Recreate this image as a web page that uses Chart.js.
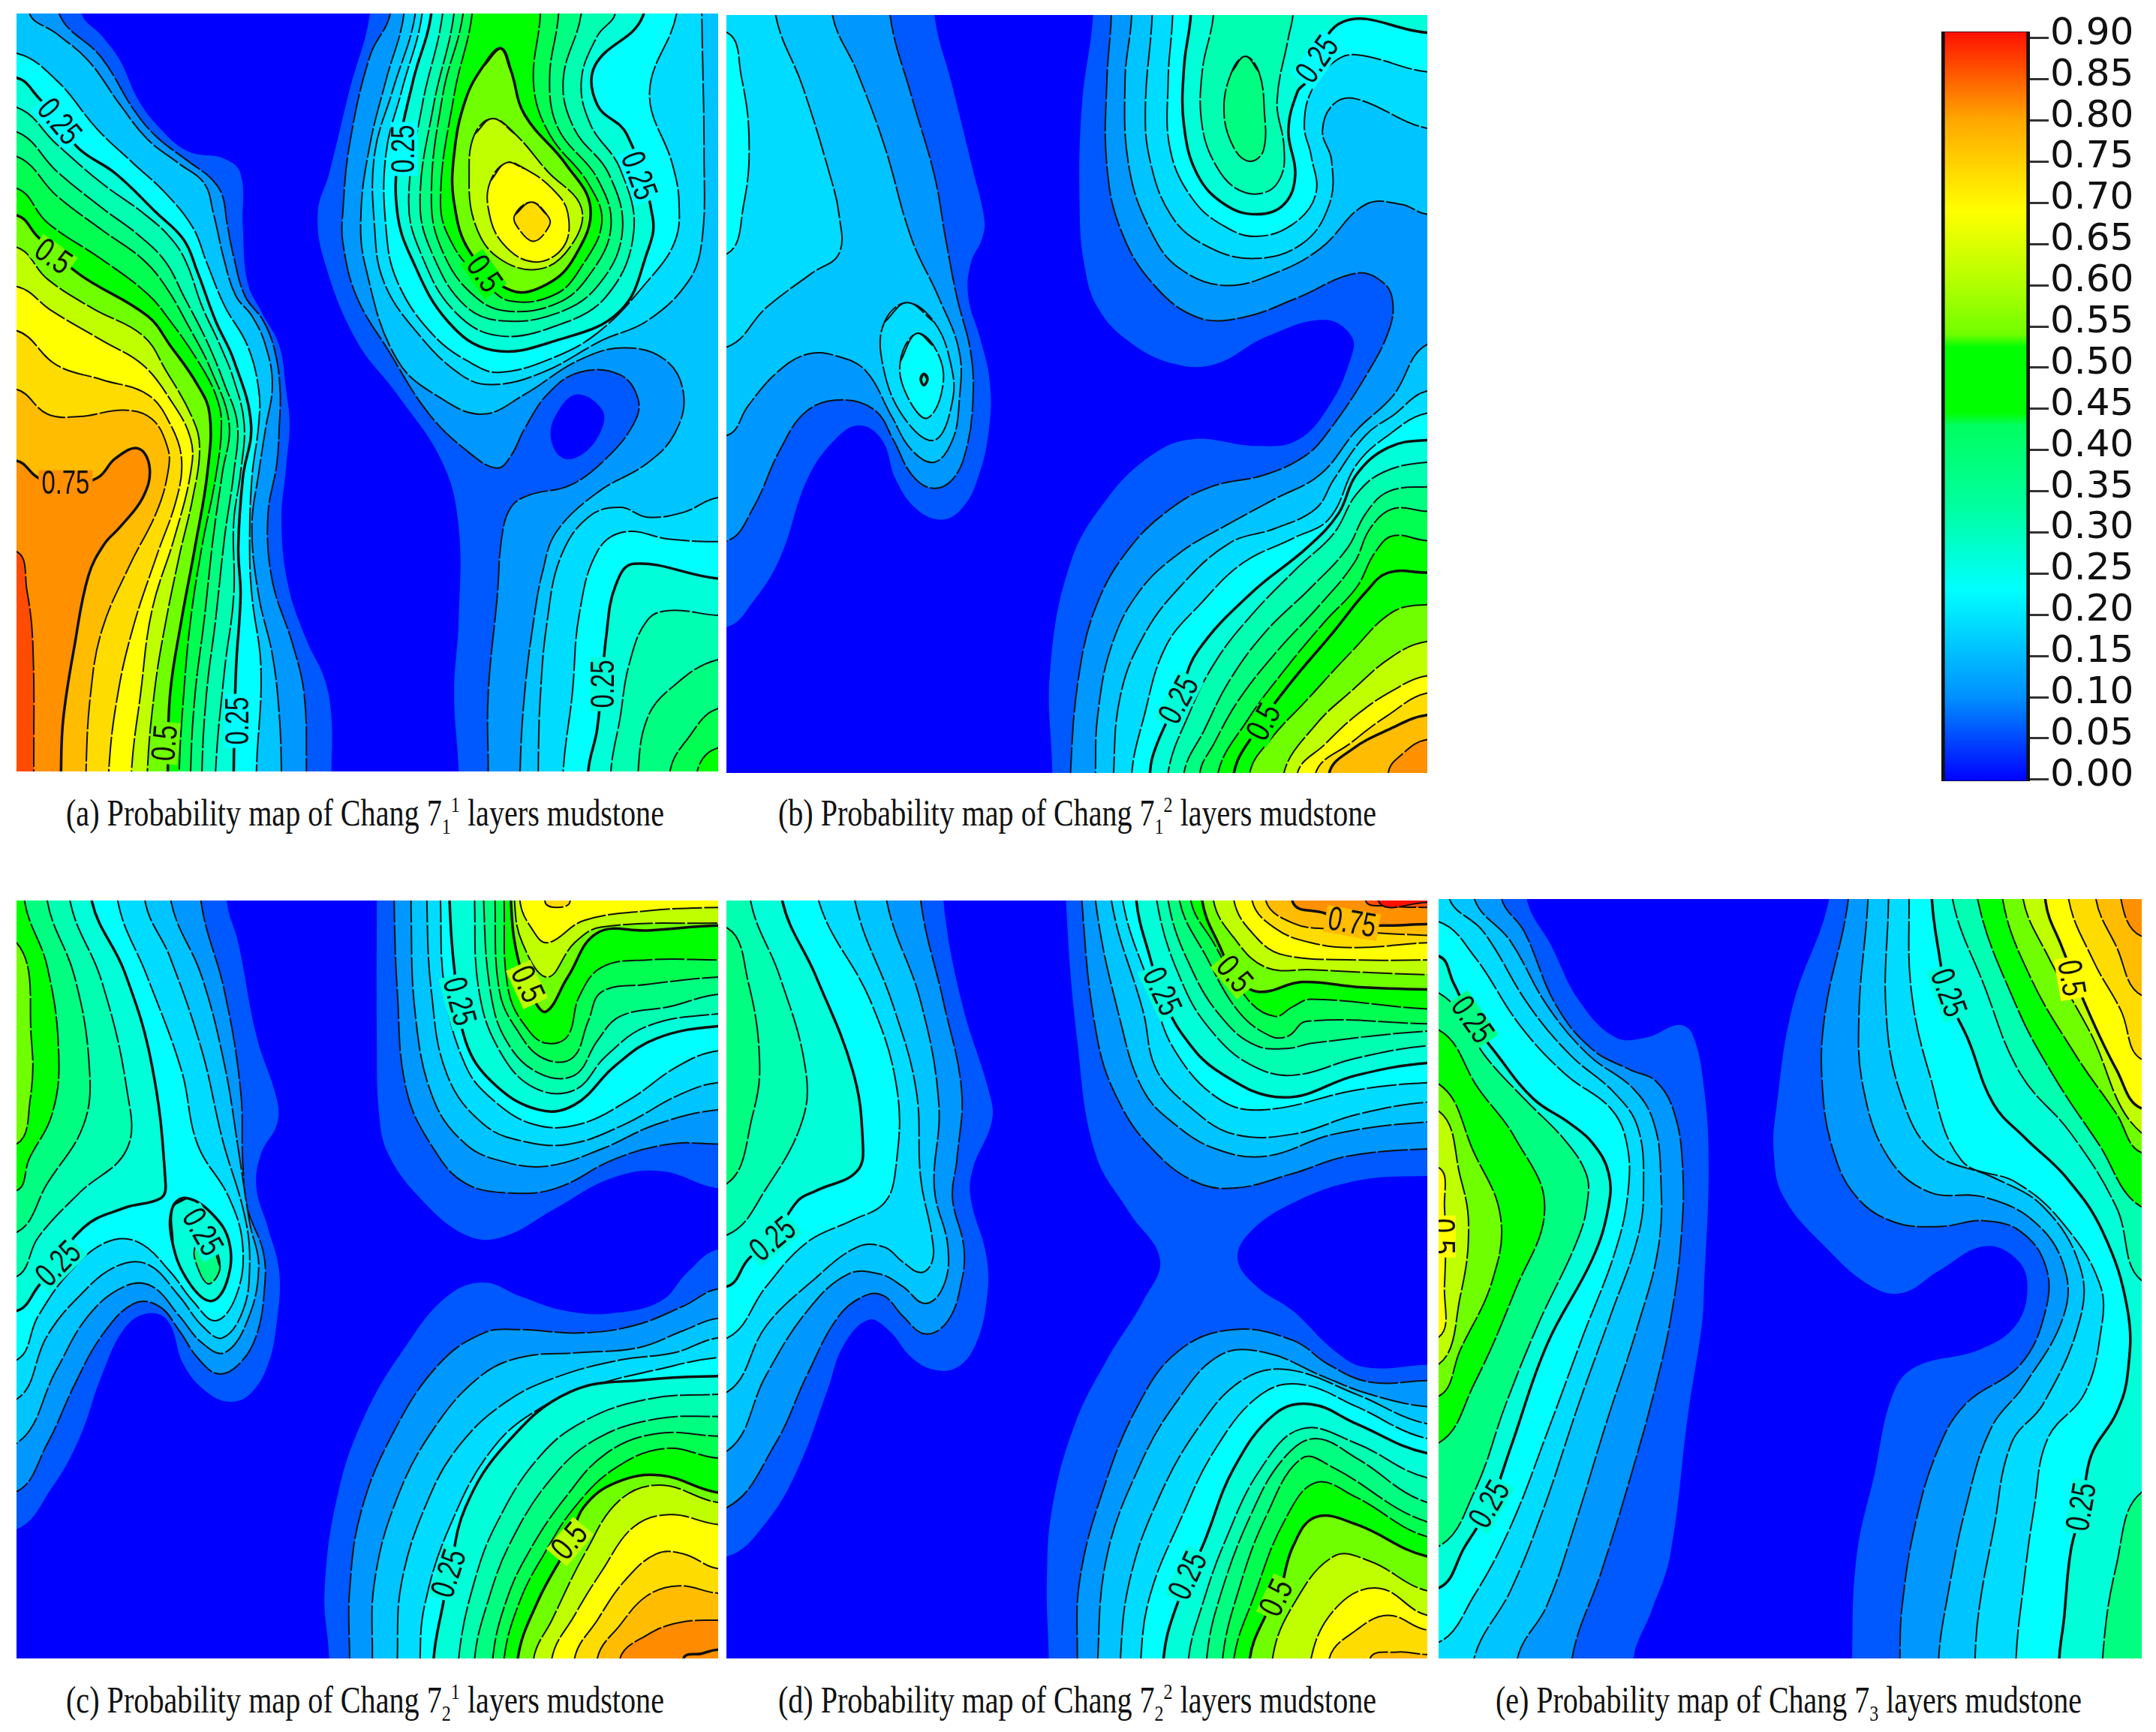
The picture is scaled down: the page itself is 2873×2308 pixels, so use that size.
<!DOCTYPE html>
<html>
<head>
<meta charset="utf-8">
<script src="https://cdn.jsdelivr.net/npm/chart.js@4"></script>
<style>
html, body { margin: 0; background: #fff; }
#page { position: relative; width: 2873px; height: 2308px; overflow: hidden; }
canvas { position: absolute; }
.cap { position: absolute; white-space: nowrap; font: 50px "Liberation Serif", serif; color: #111; transform-origin: 0 50%; line-height: 56px; }
.cap sub, .cap sup { font-size: 30px; line-height: 0; }
</style>
</head>
<body>
<div id="page"></div>
<script>
// contour levels and fill colour of the band above each level
const levels = [0, 0.05, 0.1, 0.15, 0.175, 0.2, 0.25, 0.3, 0.35, 0.4, 0.45, 0.5, 0.55, 0.6, 0.65, 0.7, 0.72, 0.75, 0.8, 0.85];
const levelColors = ['#0000ff', '#0058ff', '#0098ff', '#00c4ff', '#00dcff', '#00ffff', '#00ffd8', '#00ffb0', '#00ff80', '#00ff50',
    '#00ff00', '#70ff00', '#c0ff00', '#ffff00', '#ffdc00', '#ffbc00', '#ff8c00', '#ff9000', '#ff4c00', '#ff1000'];

const colorbarTicks = [0, 0.05, 0.1, 0.15, 0.2, 0.25, 0.3, 0.35, 0.4, 0.45, 0.5, 0.55, 0.6, 0.65, 0.7, 0.75, 0.8, 0.85, 0.9];
const colorbarRange = [-0.002, 0.908];
const colorbarStops = [[-0.002, '#0000ff'], [0.1, '#0090ff'], [0.23, '#00ffff'], [0.33, '#00ffa0'], [0.43, '#00ff60'], [0.445, '#00ff00'],
    [0.525, '#00ff00'], [0.54, '#70ff00'], [0.6, '#b0ff00'], [0.69, '#ffff00'], [0.8, '#ffa800'], [0.908, '#ff1000']];

const captions = [
    '(a) Probability map of Chang 7<sub>1</sub><sup>1</sup> layers mudstone',
    '(b) Probability map of Chang 7<sub>1</sub><sup>2</sup> layers mudstone',
    '(c) Probability map of Chang 7<sub>2</sub><sup>1</sup> layers mudstone',
    '(d) Probability map of Chang 7<sub>2</sub><sup>2</sup> layers mudstone',
    '(e) Probability map of Chang 7<sub>3</sub> layers mudstone'
];

// each contour: [level, x,y trace, outer corners to close over, thick line]
const panelA = [
    [0.05, [155,12,200,60,240,110,280,190,330,250,390,295,470,310,505,340,510,450,520,560,550,620,590,690,605,780,613,850,605,940,595,1050,610,1180,650,1290,690,1370,705,1450,705,1558], 'BL TL'],
    [0.05, [790,12,745,170,700,340,675,420,690,520,760,680,850,790,950,930,985,1060,985,1250,975,1400,985,1558], 'BR TR'],
    [0, [1245,790,1300,820,1300,860,1260,910,1215,920,1188,880,1200,830,1245,790], ''],
    [0.1, [105,12,200,105,270,210,320,265,390,315,440,350,465,385,475,440,490,510,515,590,555,640,580,700,592,780,590,860,585,930,565,1040,575,1170,620,1300,645,1400,650,1558], 'BL TL'],
    [0.1, [835,12,790,100,745,280,730,420,730,480,760,590,830,700,920,830,1010,910,1070,940,1100,915,1130,860,1180,790,1250,745,1340,750,1380,800,1370,850,1310,920,1230,975,1140,995,1100,1020,1080,1080,1070,1200,1050,1400,1050,1558], 'BR TR'],
    [0.15, [40,12,100,55,170,110,240,200,300,270,370,320,425,360,445,420,470,520,495,590,530,630,560,690,575,770,560,860,545,950,530,1060,545,1200,575,1320,590,1440,595,1558], 'BL TL'],
    [0.15, [865,12,825,150,790,280,770,420,780,530,850,720,950,800,1040,830,1130,790,1250,720,1350,695,1440,720,1480,790,1460,870,1400,930,1290,990,1200,1070,1170,1150,1150,1250,1130,1400,1120,1558], 'BR TR'],
    [0.175, [890,12,840,170,800,300,800,450,820,560,890,660,990,750,1060,770,1170,745,1300,680,1400,640,1490,560,1520,480,1525,300,1520,12], ''],
    [0.175, [1556,1000,1480,1030,1400,1040,1340,1020,1270,1040,1210,1120,1180,1250,1165,1400,1160,1558], 'BR'],
    [0.2, [12,95,100,150,190,250,270,320,340,380,400,450,430,520,470,610,520,690,545,780,545,850,530,960,525,1100,530,1200,550,1350,540,1558], 'BL'],
    [0.2, [905,12,860,170,825,300,825,450,850,560,930,670,1020,730,1075,745,1180,720,1290,665,1400,560,1460,480,1470,400,1455,320,1405,175,1465,12], ''],
    [0.2, [1556,1090,1450,1085,1350,1070,1290,1110,1250,1240,1235,1400,1215,1558], 'BR'],
    [0.25, [12,145,60,185,105,235,150,290,230,340,320,420,380,475,410,540,450,640,490,720,528,850,510,960,500,1100,505,1200,495,1350,490,1558], 'BL', 1],
    [0.25, [925,12,885,150,852,300,850,420,880,510,960,640,1060,700,1200,680,1340,620,1400,500,1412,430,1355,260,1290,200,1285,120,1390,20], '', 1],
    [0.25, [1556,1165,1370,1135,1330,1180,1310,1280,1290,1470,1270,1558], 'BR', 1],
    [0.3, [12,205,100,280,200,360,290,420,350,470,385,520,420,610,460,690,490,760,513,850,505,950,490,1050,490,1200,470,1350,450,1558], 'BL'],
    [0.3, [950,12,905,200,875,400,905,510,975,620,1070,670,1200,650,1310,590,1370,460,1340,330,1275,240,1255,150,1290,60,1330,12], ''],
    [0.3, [1556,1240,1450,1230,1400,1250,1360,1340,1340,1450,1320,1558], 'BR'],
    [0.35, [12,255,100,335,200,410,280,465,340,520,380,590,430,680,470,770,498,850,490,950,470,1080,450,1250,430,1400,420,1558], 'BL'],
    [0.35, [975,12,930,200,900,400,930,510,1000,610,1080,640,1200,625,1290,570,1345,460,1315,340,1240,250,1215,150,1255,12], ''],
    [0.35, [1556,1330,1450,1390,1400,1450,1380,1558], 'BR'],
    [0.4, [12,305,100,385,200,455,290,515,340,570,390,650,440,740,480,850,465,950,445,1080,425,1250,405,1400,395,1558], 'BL'],
    [0.4, [995,12,950,180,925,400,955,510,1020,590,1090,620,1200,605,1270,550,1320,450,1290,350,1205,250,1185,150,1205,12], ''],
    [0.4, [1556,1430,1490,1490,1450,1558], 'BR'],
    [0.45, [12,370,80,440,200,515,300,585,350,640,410,720,450,790,463,850,450,960,420,1100,395,1250,380,1400,370,1558], 'BL'],
    [0.45, [1015,12,975,180,945,400,975,490,1040,560,1100,600,1200,585,1255,530,1300,440,1270,360,1185,260,1150,160,1165,12], ''],
    [0.45, [1556,1510,1510,1558], 'BR'],
    [0.5, [12,425,60,470,150,545,300,630,350,690,410,770,437,830,432,950,405,1100,375,1250,350,1400,345,1558], 'BL', 1],
    [0.5, [1078,85,1100,130,1130,220,1220,320,1275,410,1240,510,1180,565,1100,578,1010,500,975,400,975,300,1000,190,1040,120,1078,85], '', 1],
    [0.55, [12,490,80,555,180,615,290,670,340,740,400,840,415,900,400,1000,370,1120,335,1280,315,1400,300,1558], 'BL'],
    [0.55, [1060,228,1110,260,1180,335,1255,410,1230,490,1160,535,1070,510,1020,440,1008,340,1020,260,1060,228], ''],
    [0.6, [12,570,90,620,200,680,290,730,350,800,395,880,395,950,360,1080,310,1230,285,1400,265,1558], 'BL'],
    [0.6, [1090,318,1130,330,1190,370,1225,420,1215,490,1150,520,1080,480,1050,410,1055,355,1090,318], ''],
    [0.65, [12,660,100,730,200,760,300,790,350,850,375,920,365,1000,320,1120,270,1260,235,1400,215,1558], 'BL'],
    [0.65, [1145,398,1180,425,1185,445,1150,478,1115,450,1108,425,1145,398], ''],
    [0.7, [12,780,80,830,150,835,250,822,310,840,345,900,345,950,320,1030,260,1140,200,1270,175,1400,165,1558], 'BL'],
    [0.75, [12,925,60,960,120,975,190,960,230,920,280,900,305,940,290,1000,240,1060,205,1095,170,1160,140,1300,115,1450,110,1558], 'BL', 1],
    [0.8, [12,1110,35,1190,48,1300,50,1558], 'BL']
];
const labelsA = [[105,235,50,'0.25',0.2], [92,510,35,'0.5',0.5], [120,972,0,'0.75',0.75], [865,290,-90,'0.25',0.2], [1380,345,70,'0.25',0.2],
    [1040,545,55,'0.5',0.45], [500,1455,-90,'0.25',0.2], [340,1500,-85,'0.5',0.5], [1305,1380,-90,'0.25',0.25]];

const panelB = [
    [0.05, [470,12,510,160,555,330,580,430,575,470,550,520,545,590,570,670,592,760,590,860,565,960,530,1020,485,1042,430,1020,385,960,355,880,305,850,250,880,190,960,130,1120,70,1210,14,1260], 'TL'],
    [0.05, [820,12,795,200,790,400,800,520,830,610,900,680,1000,725,1090,725,1200,670,1330,635,1390,670,1385,720,1340,810,1270,880,1180,892,1040,878,950,910,850,1000,770,1130,725,1350,730,1558], 'BR TR'],
    [0.1, [372,12,420,180,470,340,495,470,520,590,550,700,555,800,540,900,510,960,465,978,420,950,380,880,340,820,270,798,190,820,130,900,70,1020,14,1085], 'TL'],
    [0.1, [860,12,850,150,850,320,880,450,950,560,1050,630,1150,630,1270,590,1400,540,1460,560,1480,600,1470,660,1420,750,1340,860,1290,910,1200,950,1080,975,990,1020,900,1100,830,1210,790,1350,770,1558], 'BR TR'],
    [0.15, [245,12,300,130,360,280,420,470,480,590,525,700,525,800,510,880,470,925,420,900,375,830,320,740,260,710,190,705,120,745,60,810,14,870], 'TL'],
    [0.15, [905,12,890,150,900,330,950,460,1010,530,1110,565,1220,540,1320,490,1420,400,1500,400,1556,420], 'TR'],
    [0.15, [1556,685,1480,790,1400,860,1320,950,1220,1000,1120,1050,1010,1110,920,1190,860,1300,830,1440,825,1558], 'BR'],
    [0.175, [120,12,180,160,240,340,260,420,260,500,200,540,100,610,14,690], 'TL'],
    [0.175, [410,600,470,640,505,720,510,800,470,880,400,830,355,720,360,640,410,600], ''],
    [0.175, [950,12,935,200,945,310,990,420,1060,480,1170,510,1280,480,1340,400,1345,310,1325,250,1350,195,1400,185,1556,245], 'TR'],
    [0.175, [1556,780,1480,830,1420,870,1350,960,1310,1020,1220,1060,1120,1090,1010,1180,930,1280,880,1400,865,1558], 'BR'],
    [0.2, [14,50,45,140,62,270,50,400,14,500], ''],
    [0.2, [430,663,470,690,490,760,455,835,410,790,395,720,430,663], ''],
    [0.2, [995,12,985,150,990,290,1040,390,1110,445,1180,465,1260,440,1310,380,1300,300,1285,240,1300,170,1350,110,1400,95,1556,130], 'TR'],
    [0.2, [1556,825,1470,870,1400,930,1340,1040,1260,1080,1150,1130,1060,1210,980,1300,930,1450,905,1558], 'BR'],
    [0.25, [447,745,455,755,447,768,440,755,447,745], '', 1],
    [0.25, [1035,12,1020,120,1020,240,1050,340,1110,400,1180,420,1240,400,1265,340,1250,250,1270,170,1290,150,1370,28,1556,50], 'TR', 1],
    [0.25, [1556,880,1470,895,1400,950,1360,1030,1290,1100,1170,1190,1050,1310,1010,1400,960,1500,945,1558], 'BR', 1],
    [0.3, [1085,12,1060,130,1060,240,1090,320,1140,370,1200,375,1235,340,1240,280,1225,190,1250,60,1260,12], ''],
    [0.3, [1556,925,1460,945,1400,990,1350,1070,1270,1140,1170,1235,1090,1330,1030,1440,985,1558], 'BR'],
    [0.35, [1155,98,1185,130,1197,210,1195,290,1165,312,1130,285,1108,210,1125,130,1155,98], ''],
    [0.35, [1556,975,1470,985,1420,1030,1380,1100,1300,1180,1200,1270,1120,1370,1065,1470,1020,1558], 'BR'],
    [0.4, [1556,1025,1480,1020,1430,1060,1395,1130,1320,1215,1225,1310,1140,1410,1085,1500,1055,1558], 'BR'],
    [0.45, [1556,1085,1480,1075,1440,1110,1400,1180,1330,1250,1240,1350,1160,1450,1095,1558], 'BR'],
    [0.45, [1556,1150,1470,1150,1420,1190,1350,1270,1250,1380,1180,1470,1130,1558], 'BR', 1],
    [0.5, [1556,1215,1480,1230,1390,1310,1290,1410,1210,1490,1165,1558], 'BR'],
    [0.55, [1556,1290,1480,1320,1390,1390,1310,1460,1240,1558], 'BR'],
    [0.6, [1556,1360,1480,1390,1400,1440,1330,1500,1270,1558], 'BR'],
    [0.65, [1556,1395,1470,1440,1390,1495,1310,1558], 'BR'],
    [0.7, [1556,1440,1470,1470,1390,1510,1340,1558], 'BR', 1],
    [0.75, [1556,1490,1500,1520,1470,1558], 'BR']
];
const labelsB = [[1315,105,-55,'0.25',0.2], [1010,1410,-62,'0.25',0.25], [1197,1455,-62,'0.5',0.45]];

const panelC = [
    [0.05, [475,16,500,100,540,290,585,420,585,470,550,530,540,600,565,680,590,770,585,870,565,960,525,1020,480,1035,430,1015,380,960,345,870,300,855,250,885,200,980,150,1110,90,1210,12,1295], 'TL'],
    [0.05, [805,16,805,300,810,450,830,530,900,620,1000,695,1080,700,1200,640,1320,580,1430,565,1556,600], 'TR'],
    [0.05, [700,1558,690,1420,720,1220,780,1060,870,920,960,820,1040,792,1120,820,1220,850,1320,855,1430,830,1490,770,1556,725], 'BR'],
    [0.1, [418,16,470,200,505,400,510,550,520,640,555,730,558,800,540,900,500,960,455,978,410,945,370,890,325,840,270,835,200,900,140,1000,80,1120,12,1218], 'TL'],
    [0.1, [843,16,850,200,870,400,930,520,1000,590,1100,610,1200,600,1330,540,1450,510,1556,510], 'TR'],
    [0.1, [745,1558,745,1420,770,1260,840,1100,940,960,1040,895,1120,888,1250,895,1370,880,1480,840,1556,805], 'BR'],
    [0.15, [352,16,420,170,470,350,500,520,525,670,545,760,520,870,470,935,420,915,370,860,310,800,250,800,170,860,100,970,12,1120], 'TL'],
    [0.15, [880,16,890,250,930,420,1000,510,1080,545,1180,555,1300,520,1420,470,1556,440], 'TR'],
    [0.15, [795,1558,800,1400,850,1230,930,1090,1030,985,1120,945,1250,935,1380,925,1480,890,1556,865], 'BR'],
    [0.175, [295,16,350,130,420,320,465,500,515,660,525,760,510,850,465,905,420,880,370,820,300,755,230,760,150,820,80,900,12,1030], 'TL'],
    [0.175, [915,16,925,200,960,370,1040,470,1130,505,1230,510,1350,470,1470,410,1556,385], 'TR'],
    [0.175, [850,1558,860,1400,920,1230,990,1120,1090,1035,1200,985,1340,950,1460,935,1556,905], 'BR'],
    [0.2, [235,16,300,170,375,360,410,510,480,620,510,720,495,820,450,870,400,830,350,770,280,710,210,710,130,770,60,860,12,950], 'TL'],
    [0.2, [945,16,955,200,1000,350,1060,420,1150,470,1250,470,1360,420,1470,350,1556,320], 'TR'],
    [0.2, [900,1558,910,1450,965,1290,1060,1130,1170,1045,1290,1000,1420,970,1556,945], 'BR'],
    [0.25, [178,16,250,160,310,350,340,590,330,620,250,640,160,680,60,800,12,850], 'TL', 1],
    [0.25, [355,640,385,620,440,650,480,710,475,790,440,830,390,790,355,710,355,640], '', 1],
    [0.25, [965,16,975,150,1000,300,1060,385,1160,440,1240,430,1330,350,1420,295,1556,270], 'TR', 1],
    [0.25, [930,1558,950,1450,965,1385,1000,1250,1090,1120,1230,1015,1400,990,1556,983], 'BR', 1],
    [0.3, [130,16,200,180,255,400,255,520,150,610,60,700,12,780], 'TL'],
    [0.3, [1020,16,1030,200,1075,320,1150,395,1240,400,1310,330,1400,270,1556,245], 'TR'],
    [0.3, [985,1558,1020,1400,1070,1280,1160,1150,1260,1075,1400,1030,1556,1020], 'BR'],
    [0.35, [80,16,140,170,172,350,160,470,80,590,12,690], 'TL'],
    [0.35, [435,705,460,760,435,795,410,760,405,720,435,705], ''],
    [0.35, [1040,16,1055,200,1090,300,1160,365,1240,370,1290,300,1340,250,1450,230,1556,205], 'TR'],
    [0.35, [1020,1558,1050,1440,1100,1320,1190,1190,1290,1110,1420,1070,1556,1065], 'BR'],
    [0.4, [1065,16,1075,200,1115,280,1170,335,1235,335,1270,260,1300,200,1400,185,1556,170], 'TR'],
    [0.4, [1060,1558,1090,1440,1140,1340,1220,1230,1310,1140,1420,1100,1556,1105], 'BR'],
    [0.45, [30,16,80,150,105,330,90,450,40,540,12,605], 'TL'],
    [0.45, [1085,16,1095,200,1140,280,1180,305,1225,290,1250,210,1300,150,1400,135,1556,135], 'TR'],
    [0.45, [1085,1558,1120,1440,1170,1350,1240,1250,1330,1170,1440,1130,1556,1150], 'BR'],
    [0.5, [12,100,45,300,42,420,12,510], ''],
    [0.5, [1100,16,1115,130,1150,215,1178,240,1225,170,1290,80,1400,75,1556,65], 'TR', 1],
    [0.5, [1115,1558,1160,1440,1230,1320,1260,1250,1330,1200,1430,1185,1556,1220], 'BR', 1],
    [0.55, [1108,16,1125,100,1180,170,1240,100,1300,68,1556,60], ''],
    [0.55, [1150,1558,1190,1480,1265,1340,1340,1235,1430,1205,1556,1240], 'BR'],
    [0.6, [1120,16,1145,70,1180,100,1260,55,1400,35,1556,28], 'TR'],
    [0.6, [1190,1558,1240,1470,1300,1380,1370,1290,1450,1265,1556,1285], 'BR'],
    [0.65, [1175,16,1200,28,1230,16], ''],
    [0.65, [1240,1558,1290,1480,1350,1400,1420,1345,1480,1345,1556,1375], 'BR'],
    [0.7, [1290,1558,1340,1490,1400,1430,1470,1410,1556,1425], 'BR'],
    [0.72, [1340,1558,1400,1510,1470,1485,1556,1480], 'BR'],
    [0.75, [1480,1558,1520,1548,1556,1540], 'BR', 1]
];
const labelsC = [[105,755,-45,'0.25',0.25], [420,690,60,'0.25',0.25], [985,220,75,'0.25',0.25], [1135,185,65,'0.5',0.55], [965,1385,-72,'0.25',0.25], [1230,1320,-50,'0.5',0.55]];

const panelD = [
    [0.05, [490,14,530,220,595,420,595,470,555,560,550,620,585,740,585,830,560,920,520,965,470,970,420,945,370,890,325,868,270,920,235,1010,170,1170,100,1280,14,1350], 'TL'],
    [0.05, [760,14,785,300,825,530,900,650,967,745,930,830,850,950,780,1080,730,1250,718,1400,722,1558], 'BR TR'],
    [0, [1556,575,1400,585,1260,630,1165,690,1138,745,1180,800,1260,850,1350,930,1420,965,1556,960], ''],
    [0.1, [440,14,490,220,530,400,520,540,510,620,535,720,530,790,500,870,450,897,400,860,360,820,320,818,260,860,190,980,120,1120,14,1250], 'TL'],
    [0.1, [795,14,830,300,880,430,950,520,1040,585,1130,600,1260,570,1380,535,1556,520], 'TR'],
    [0.1, [785,1558,790,1400,840,1220,920,1040,1010,930,1130,888,1260,910,1340,960,1430,995,1556,992], 'BR'],
    [0.15, [365,14,440,220,480,430,470,600,500,720,490,800,450,835,400,800,350,775,280,775,190,850,100,980,14,1135], 'TL'],
    [0.15, [825,14,880,260,930,400,1000,470,1090,520,1200,535,1350,490,1556,465], 'TR'],
    [0.15, [830,1558,850,1350,920,1170,1000,1040,1100,940,1200,935,1330,985,1430,1020,1556,1045], 'BR'],
    [0.175, [295,14,380,230,430,400,440,580,465,700,465,750,440,772,400,750,360,720,300,720,200,790,100,880,14,1015], 'TL'],
    [0.175, [860,14,930,240,960,360,1040,440,1130,490,1260,490,1400,450,1556,425], 'TR'],
    [0.175, [880,1558,900,1400,960,1240,1050,1090,1150,990,1250,970,1400,1020,1556,1080], 'BR'],
    [0.2, [215,14,330,220,388,400,385,560,360,630,290,665,190,710,100,800,14,905], 'TL'],
    [0.2, [885,14,950,200,1000,320,1100,420,1200,440,1400,400,1556,385], 'TR'],
    [0.2, [925,1558,945,1430,1010,1280,1090,1130,1190,1020,1280,1000,1400,1045,1556,1110], 'BR'],
    [0.25, [135,14,210,170,290,360,312,500,300,565,210,605,170,625,115,700,60,745,14,800], 'TL', 1],
    [0.25, [915,14,945,130,970,200,1015,285,1100,365,1240,415,1400,370,1556,345], 'TR', 1],
    [0.25, [975,1558,1000,1460,1065,1320,1130,1170,1220,1060,1300,1040,1400,1080,1556,1140], 'BR', 1],
    [0.3, [65,14,130,170,185,350,180,460,100,600,14,695], 'TL'],
    [0.3, [960,14,1020,190,1090,290,1170,350,1260,370,1400,335,1556,310], 'TR'],
    [0.3, [1030,1558,1060,1450,1110,1320,1190,1170,1280,1090,1400,1120,1556,1190], 'BR'],
    [0.35, [14,70,60,180,85,340,70,450,14,590], ''],
    [0.35, [985,14,1040,160,1110,260,1180,310,1250,315,1300,305,1556,280], 'TR'],
    [0.35, [1070,1558,1100,1430,1170,1260,1240,1150,1310,1110,1400,1150,1556,1240], 'BR'],
    [0.4, [1010,14,1070,130,1140,240,1210,290,1250,290,1290,260,1556,265], 'TR'],
    [0.4, [1105,1558,1140,1420,1200,1270,1280,1150,1350,1170,1556,1280], 'BR'],
    [0.45, [1035,14,1085,100,1160,215,1220,250,1260,230,1300,215,1556,235], 'TR'],
    [0.45, [1130,1558,1175,1430,1240,1280,1310,1200,1400,1230,1556,1310], 'BR'],
    [0.5, [1060,14,1100,110,1135,170,1185,200,1280,180,1400,190,1556,195], 'TR', 1],
    [0.5, [1165,1558,1200,1470,1228,1430,1260,1330,1310,1270,1400,1285,1556,1350], 'BR', 1],
    [0.55, [1085,14,1130,90,1200,150,1300,155,1556,165], 'TR'],
    [0.55, [1215,1558,1260,1450,1350,1350,1430,1360,1556,1420], 'BR'],
    [0.6, [1130,14,1180,90,1240,125,1400,135,1556,135], 'TR'],
    [0.6, [1300,1558,1360,1450,1450,1415,1556,1470], 'BR'],
    [0.65, [1170,14,1220,70,1300,100,1400,110,1556,100], 'TR'],
    [0.65, [1340,1558,1400,1500,1470,1470,1556,1500], 'BR'],
    [0.7, [1200,14,1260,60,1340,72,1556,85], 'TR'],
    [0.7, [1430,1558,1490,1545,1556,1550], 'BR'],
    [0.75, [1260,18,1330,40,1390,62,1460,65,1556,62], 'TR', 1],
    [0.8, [1420,14,1470,25,1556,28], 'TR'],
    [0.85, [1450,18,1556,18], 'TR']
];
const labelsD = [[115,705,-40,'0.25',0.25], [970,200,65,'0.25',0.25], [1130,165,50,'0.5',0.5], [1390,60,10,'0.75',0.7], [1030,1390,-65,'0.25',0.25], [1225,1435,-65,'0.5',0.5]];

const panelE = [
    [0.05, [205,12,260,110,320,220,400,295,470,295,540,270,570,290,595,400,605,560,595,800,590,880,560,1060,520,1350,480,1460,440,1558], 'BL TL'],
    [0.05, [870,12,790,230,755,430,748,530,770,620,860,720,960,800,1030,815,1110,770,1210,720,1280,745,1305,800,1280,880,1200,930,1060,965,1010,1020,970,1180,930,1350,920,1558], 'BR TR'],
    [0.1, [150,12,200,80,270,230,350,320,430,360,490,385,530,450,548,560,545,700,525,850,490,1000,430,1200,370,1380,305,1558], 'BL TL'],
    [0.1, [912,12,860,250,855,400,880,530,930,620,1010,670,1110,680,1210,668,1290,690,1345,760,1345,850,1290,960,1170,1040,1110,1130,1060,1280,1030,1450,1025,1558], 'BR TR'],
    [0.15, [90,12,170,100,250,230,340,330,440,400,485,470,500,580,495,720,450,880,380,1080,310,1290,250,1450,185,1558], 'BL TL'],
    [0.15, [955,12,935,250,945,400,1000,540,1090,610,1210,620,1320,670,1385,760,1385,860,1300,1000,1225,1090,1170,1250,1130,1430,1110,1558], 'BR TR'],
    [0.175, [35,12,110,80,210,230,300,330,400,410,450,480,462,600,450,700,390,860,320,1040,240,1260,170,1420,90,1558], 'BL TL'],
    [0.175, [1000,12,995,250,1030,420,1100,530,1230,580,1340,640,1420,760,1420,870,1340,1040,1270,1120,1230,1300,1200,1450,1190,1558], 'BR TR'],
    [0.2, [12,60,90,130,190,270,290,370,390,440,425,510,428,610,400,730,330,900,250,1100,170,1290,90,1430,12,1525], ''],
    [0.2, [1045,12,1050,200,1090,370,1160,545,1280,590,1380,670,1465,800,1465,900,1430,1020,1350,1110,1320,1250,1295,1420,1280,1558], 'BR TR'],
    [0.25, [12,130,45,185,85,260,140,330,220,420,300,470,350,510,385,570,385,640,350,745,250,920,170,1130,125,1245,70,1330,12,1415], '', 1],
    [0.25, [1095,12,1110,120,1130,210,1175,300,1230,430,1300,500,1390,580,1470,690,1525,850,1525,980,1500,1060,1445,1145,1425,1250,1400,1340,1385,1480,1375,1558], 'BR TR', 1],
    [0.3, [1140,12,1210,190,1290,370,1400,490,1500,640,1556,790], 'TR'],
    [0.35, [12,205,120,340,200,420,290,505,335,570,340,620,320,700,230,880,160,1040,90,1220,12,1330], ''],
    [0.35, [1556,1220,1500,1370,1470,1558], 'BR'],
    [0.45, [12,280,100,400,180,500,245,640,180,810,90,1000,12,1120], ''],
    [0.45, [1195,12,1280,230,1360,370,1460,510,1556,640], 'TR'],
    [0.5, [12,390,90,530,148,660,130,790,60,930,12,1025], ''],
    [0.5, [1250,12,1310,170,1410,330,1500,450,1556,530], 'TR'],
    [0.55, [12,445,60,580,78,680,60,820,12,960], ''],
    [0.55, [1295,12,1350,130,1440,280,1556,490], 'TR'],
    [0.6, [12,560,25,640,25,800,12,905], ''],
    [0.6, [1345,20,1380,110,1440,245,1500,360,1556,440], 'TR', 1],
    [0.65, [1395,12,1450,140,1510,240,1556,340], 'TR'],
    [0.7, [1455,12,1500,110,1556,210], 'TR'],
    [0.75, [1510,12,1556,90], 'TR']
];
const labelsE = [[85,260,55,'0.25',0.35], [1400,175,80,'0.5',0.6], [1130,205,70,'0.25',0.25], [20,700,90,'0.5',0.6], [125,1245,-60,'0.25',0.25], [1425,1250,-80,'0.25',0.25]];

const page = document.getElementById('page');

function addCanvas(left, top, width, height) {
    const canvas = document.createElement('canvas');
    canvas.width = width;
    canvas.height = height;
    canvas.style.left = left + 'px';
    canvas.style.top = top + 'px';
    page.appendChild(canvas);
    return canvas;
}

// map extent in trace units, everything outside is clipped by the chart area
const minX = 12, maxX = 1556, minY = 14, maxY = 1558, out = 150;
const cornerPoints = {
    TL: [minX - out, minY - out], TR: [maxX + out, minY - out],
    BR: [maxX + out, maxY + out], BL: [minX - out, maxY + out]
};

// push an end of a trace past the nearest map edge so its fill closes out of sight
function pushOut(x, y) {
    const d = [x - minX, maxX - x, y - minY, maxY - y];
    const i = d.indexOf(Math.min(...d));
    if (i === 0) return [x - out, y];
    if (i === 1) return [x + out, y];
    if (i === 2) return [x, y - out];
    return [x, y + out];
}

function toPoints(trace, corners) {
    let pts = [];
    for (let i = 0; i < trace.length; i += 2) pts.push([trace[i], trace[i + 1]]);
    const first = pts[0], last = pts[pts.length - 1];
    if (first[0] !== last[0] || first[1] !== last[1]) {
        const tail = corners ? corners.split(' ').map(c => cornerPoints[c]) : [];
        pts.unshift(pushOut(first[0], first[1]));
        pts.push(pushOut(last[0], last[1]), ...tail);
    } else {
        // overlap a closed loop by one point each way so the spline has no kink at its seam
        pts = [pts[pts.length - 2], ...pts, pts[1]];
    }
    return pts.map(p => ({ x: p[0], y: p[1] }));
}

function colorOf(level) {
    return levelColors[levels.indexOf(level)];
}

const contourLabelPlugin = {
    id: 'contourLabels',
    afterDatasetsDraw(chart, args, opts) {
        const ctx = chart.ctx;
        ctx.save();
        ctx.textAlign = 'center';
        ctx.textBaseline = 'middle';
        ctx.font = '45px "Liberation Sans", Arial, sans-serif';
        for (const [x, y, angle, text, level] of opts.items) {
            const w = text.length * 16;
            ctx.save();
            ctx.translate(chart.scales.x.getPixelForValue(x), chart.scales.y.getPixelForValue(y));
            ctx.rotate(angle * Math.PI / 180);
            ctx.fillStyle = colorOf(level);
            ctx.fillRect(-w / 2 - 4, -18, w + 8, 36);
            ctx.fillStyle = '#111';
            ctx.fillText(text, 0, 1, w);
            ctx.restore();
        }
        ctx.restore();
    }
};

function drawPanel(box, contours, labels) {
    const canvas = addCanvas(box[0], box[1], box[2], box[3]);
    canvas.style.background = levelColors[0];
    // first dataset is drawn last in Chart.js, so reverse to paint low levels first
    const datasets = contours.slice().reverse().map(([level, trace, corners, thick]) => ({
        data: toPoints(trace, corners),
        showLine: true,
        fill: 'shape',
        backgroundColor: colorOf(level),
        borderColor: '#101010',
        borderWidth: level <= 0.05 ? 0 : (thick ? 3.5 : 2),
        borderDash: thick ? [] : [40, 3],
        pointRadius: 0,
        tension: 0.4,
        clip: 0
    }));
    new Chart(canvas.getContext('2d'), {
        type: 'scatter',
        data: { datasets: datasets },
        plugins: [contourLabelPlugin],
        options: {
            responsive: false,
            animation: false,
            events: [],
            layout: { padding: 0 },
            elements: { line: { capBezierPoints: false } },
            scales: {
                x: { type: 'linear', display: false, min: minX, max: maxX },
                y: { type: 'linear', display: false, min: minY, max: maxY, reverse: true }
            },
            plugins: { legend: { display: false }, tooltip: { enabled: false }, contourLabels: { items: labels } }
        }
    });
}

drawPanel([22, 18, 935, 1010], panelA, labelsA);
drawPanel([968, 20, 934, 1010], panelB, labelsB);
drawPanel([22, 1200, 935, 1010], panelC, labelsC);
drawPanel([968, 1200, 934, 1010], panelD, labelsD);
drawPanel([1917, 1198, 937, 1012], panelE, labelsE);

// colour bar
const barCanvas = addCanvas(2580, 20, 280, 1040);
new Chart(barCanvas.getContext('2d'), {
    type: 'bar',
    data: {
        labels: [''],
        datasets: [{
            data: [colorbarRange],
            barPercentage: 1,
            categoryPercentage: 1,
            borderColor: '#111',
            borderWidth: { left: 5, right: 5, top: 1, bottom: 1 },
            borderSkipped: false,
            backgroundColor(context) {
                const area = context.chart.chartArea;
                if (!area) return colorbarStops[0][1];
                const [lo, hi] = colorbarRange;
                const g = context.chart.ctx.createLinearGradient(0, area.bottom, 0, area.top);
                for (const [v, c] of colorbarStops) g.addColorStop((v - lo) / (hi - lo), c);
                return g;
            }
        }]
    },
    options: {
        responsive: false,
        animation: false,
        events: [],
        layout: { padding: { left: 7, top: 22, bottom: 19, right: 0 } },
        scales: {
            x: { display: false },
            y: {
                position: 'right',
                min: colorbarRange[0],
                max: colorbarRange[1],
                afterFit(scale) {
                    scale.width = 155;
                    // keep the bar to its own height, the end labels may overhang it
                    scale.paddingTop = 0;
                    scale.paddingBottom = 0;
                },
                afterBuildTicks(scale) { scale.ticks = colorbarTicks.map(v => ({ value: v })); },
                border: { display: false },
                grid: { drawOnChartArea: false, tickLength: 25, color: '#333', lineWidth: 3 },
                ticks: {
                    padding: 2,
                    labelOffset: -5,
                    color: '#111',
                    autoSkip: false,
                    font: { family: '"DejaVu Sans"', size: 50 },
                    callback: v => v.toFixed(2)
                }
            }
        },
        plugins: { legend: { display: false }, tooltip: { enabled: false } }
    }
});

// captions are squeezed to the printed width
const captionBoxes = [[88, 1083, 797], [1037, 1083, 797], [88, 2265, 797], [1037, 2265, 797], [1993, 2265, 781]];
captions.forEach((html, i) => {
    const [left, middle, width] = captionBoxes[i];
    const span = document.createElement('span');
    span.className = 'cap';
    span.innerHTML = html;
    span.style.left = left + 'px';
    span.style.top = (middle - 28) + 'px';
    page.appendChild(span);
    span.style.transform = 'scaleX(' + (width / span.getBoundingClientRect().width) + ')';
});
</script>
</body>
</html>
